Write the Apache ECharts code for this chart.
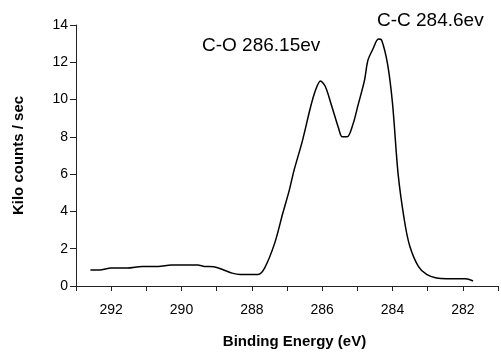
<!DOCTYPE html>
<html>
<head>
<meta charset="utf-8">
<script src="https://cdn.jsdelivr.net/npm/echarts@6/dist/echarts.min.js"></script>
<style>
  html, body { margin: 0; padding: 0; background: #fff; }
  #chart { width: 501px; height: 354px; }
</style>
</head>
<body>
<div id="chart"></div>
<script>
// binding energy (eV) and intensity (kilo counts / sec)
const energy = [
  292.59, 292.33, 292.0, 291.54, 291.12, 290.66, 290.29, 289.54, 289.35, 289.08,
  288.8, 288.56, 288.33, 287.82, 287.63, 287.35, 287.12, 286.94, 286.8, 286.56,
  286.33, 286.19, 286.05, 285.91, 285.72, 285.54, 285.43, 285.29, 285.12, 284.98,
  284.8, 284.7, 284.56, 284.4, 284.31, 284.14, 284.0, 283.84, 283.66, 283.51,
  283.26, 283.03, 282.75, 282.47, 281.92, 281.71
];
const counts = [
  0.86, 0.86, 0.96, 0.96, 1.05, 1.05, 1.12, 1.12, 1.05, 1.03,
  0.86, 0.69, 0.62, 0.62, 0.99, 2.3, 3.9, 5.1, 6.2, 7.8,
  9.6, 10.5, 11.0, 10.7, 9.6, 8.5, 8.0, 8.0, 8.7, 9.7,
  11.0, 12.1, 12.7, 13.25, 13.2, 11.9, 9.8, 6.0, 3.5, 2.15,
  1.04, 0.62, 0.43, 0.39, 0.39, 0.27
];
const peakLabels = ['C-O 286.15ev', 'C-C 284.6ev'];

const font = '"Liberation Sans", Arial, sans-serif';
const axisColor = '#222';

const chart = echarts.init(document.getElementById('chart'));

chart.setOption({
  animation: false,
  grid: { left: 76, right: -5, top: 25, bottom: 67 },
  xAxis: {
    type: 'value',
    inverse: true,
    min: 281,
    max: 293,
    interval: 1,
    name: 'Binding Energy (eV)',
    nameLocation: 'middle',
    nameGap: 48,
    nameTextStyle: { fontFamily: font, fontWeight: 'bold', fontSize: 15, color: '#000', padding: [0, 0, 0, 15] },
    splitLine: { show: false },
    axisLine: { show: true, lineStyle: { color: axisColor, width: 1 } },
    axisTick: { show: true, length: 5, lineStyle: { color: axisColor } },
    axisLabel: {
      margin: 17,
      fontFamily: font,
      fontSize: 14,
      color: '#000',
      formatter: v => (v % 2 === 0 ? String(v) : '')
    }
  },
  yAxis: {
    type: 'value',
    min: 0,
    max: 14,
    interval: 2,
    name: 'Kilo counts / sec',
    nameLocation: 'middle',
    nameGap: 50,
    nameTextStyle: { fontFamily: font, fontWeight: 'bold', fontSize: 15, color: '#000' },
    splitLine: { show: false },
    axisLine: { show: true, lineStyle: { color: axisColor, width: 1 } },
    axisTick: { show: true, length: 6, lineStyle: { color: axisColor } },
    axisLabel: { margin: 8, fontFamily: font, fontSize: 14, color: '#000' }
  },
  graphic: [
    {
      type: 'text',
      left: 202,
      top: 36,
      style: { text: peakLabels[0], font: '19px ' + font, fill: '#000' }
    },
    {
      type: 'text',
      left: 377,
      top: 11,
      style: { text: peakLabels[1], font: '19px ' + font, fill: '#000' }
    }
  ],
  series: [
    {
      type: 'line',
      smooth: 0.3,
      symbol: 'none',
      lineStyle: { color: '#000', width: 1.5 },
      data: energy.map((e, i) => [e, counts[i]])
    }
  ]
});
</script>
</body>
</html>
